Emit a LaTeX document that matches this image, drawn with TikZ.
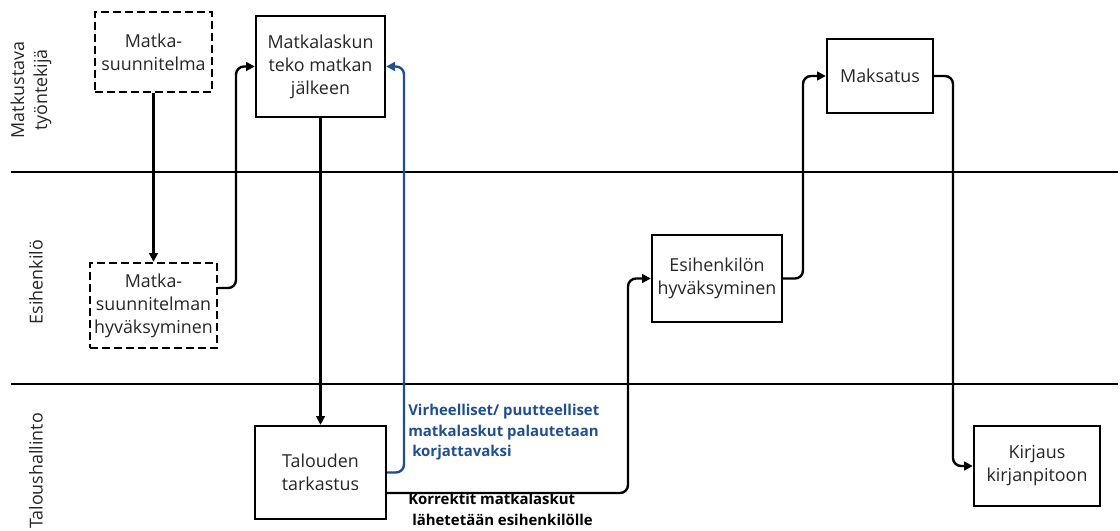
\documentclass[tikz,border=0pt]{standalone}
\usepackage{fontspec}
\setmainfont{Open Sans}
\usetikzlibrary{arrows.meta}
\definecolor{flowblue}{HTML}{1F4E96}
\definecolor{txtgray}{HTML}{262626}
\begin{document}
\begin{tikzpicture}[x=0.75pt,y=-0.75pt,
  boxtext/.style={font=\fontsize{13.4}{17.2}\selectfont, text=txtgray, align=center, inner sep=0pt},
  procbox/.style={boxtext, draw=black, line width=1.8pt},
  planbox/.style={boxtext, draw=black, line width=1.8pt, dash pattern=on 6pt off 3pt},
  lanelabel/.style={boxtext, rotate=90},
  lane/.style={line width=1.8pt},
  flow/.style={line width=1.8pt, rounded corners=6pt, -{Triangle[length=6.5pt,width=6.5pt]}},
  note/.style={font=\fontsize{11.2}{15.3}\selectfont\bfseries, align=left, inner sep=0pt, anchor=north west}
]
\useasboundingbox (0,0) rectangle (1120,531);
% lanes
\coordinate (l1a) at (11,172); \coordinate (l1b) at (1118,172);
\coordinate (l2a) at (11,384); \coordinate (l2b) at (1118,384);
\draw[lane] (l1a) -- (l1b);
\draw[lane] (l2a) -- (l2b);
\node[lanelabel] (lab1) at (31,90) {Matkustava\\työntekijä};
\node[lanelabel] (lab2) at (36,282) {Esihenkilö};
\node[lanelabel] (lab3) at (36,471) {Taloushallinto};
% boxes
\node[planbox, minimum width=117*0.75pt, minimum height=80*0.75pt] (ms) at (153.5,52) {Matka-\\suunnitelma};
\node[procbox, minimum width=129*0.75pt, minimum height=101*0.75pt] (mk) at (320.5,66.5) {Matkalaskun\\teko matkan\\jälkeen};
\node[planbox, minimum width=127*0.75pt, minimum height=85*0.75pt] (msh) at (153.5,305.5) {Matka-\\suunnitelman\\hyväksyminen};
\node[procbox, minimum width=131*0.75pt, minimum height=93*0.75pt] (tt) at (320.5,472.5) {Talouden\\tarkastus};
\node[procbox, minimum width=130*0.75pt, minimum height=87*0.75pt] (eh) at (717,278.5) {Esihenkilön\\hyväksyminen};
\node[procbox, minimum width=106*0.75pt, minimum height=74*0.75pt] (mks) at (880,76) {Maksatus};
\node[procbox, minimum width=126*0.75pt, minimum height=80*0.75pt] (kk) at (1037,466) {Kirjaus\\kirjanpitoon};
% connectors
\draw[flow] (ms.south) -- (msh.north);
\draw[flow] ([yshift=13.1pt]msh.east) -| (236,150) |- (mk.west);
\draw[flow] (mk.south) -- (tt.north);
\draw[flow, draw=flowblue] (tt.east) -| (404,300) |- (mk.east);
\draw[flow] ([yshift=-15.4pt]tt.east) -| (628,400) |- (eh.west);
\draw[flow] (eh.east) -| (803,200) |- (mks.west);
\draw[flow] (mks.east) -| (953,300) |- (kk.west);
% notes
\node[note, text=flowblue] (n1) at (408,404) {Virheelliset/ puutteelliset\\matkalaskut palautetaan\\\hspace{3pt}korjattavaksi};
\node[note, text=black] (n2) at (408,493) {Korrektit matkalaskut\\\hspace{3pt}lähetetään esihenkilölle};
\end{tikzpicture}
\end{document}
